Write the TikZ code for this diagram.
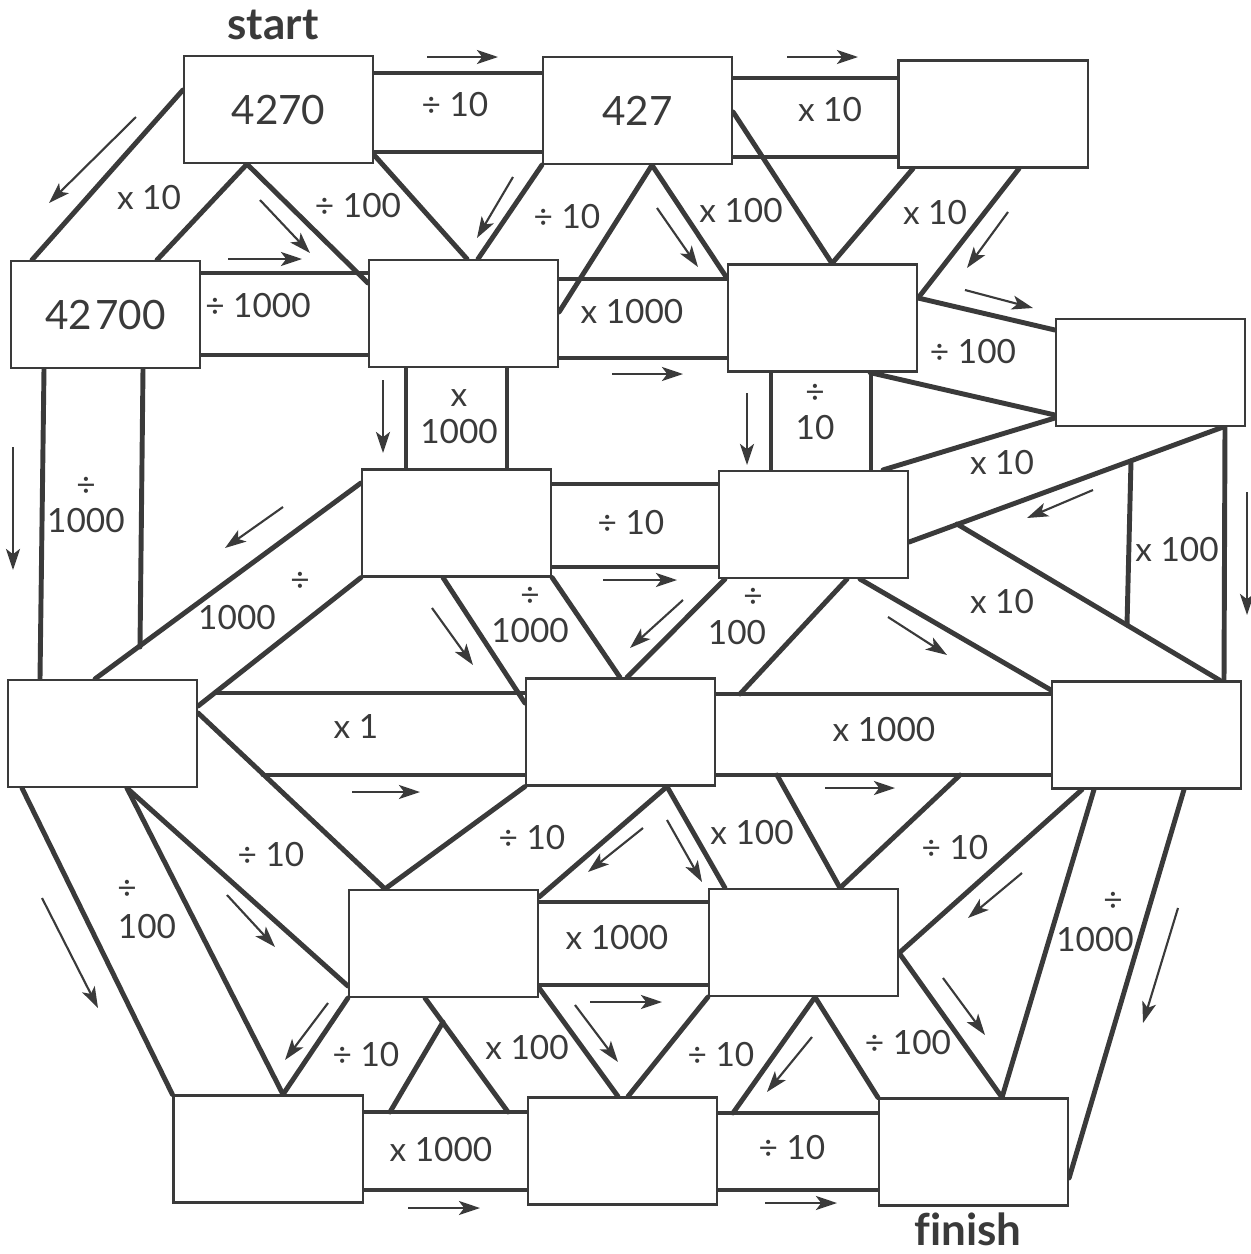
\documentclass[tikz,border=0pt]{standalone}
\usepackage{fontspec}
\setmainfont{Lato}
\usetikzlibrary{arrows.meta,backgrounds}
\definecolor{ink}{HTML}{3A3A3A}
\begin{document}
\begin{tikzpicture}[
    x=0.01cm, y=-0.01cm,
    numbox/.style={draw=ink, line width=0.6pt, fill=white, inner sep=0pt, text=ink,
        minimum width=1.89cm, minimum height=1.07cm, font=\fontsize{11.5}{13}\selectfont},
    band/.style={draw=ink, line width=1.4pt, line cap=round},
    op/.style={text=ink, inner sep=0pt, align=center, font=\fontsize{9.5}{10.5}\selectfont},
    flow/.style={draw=ink, line width=0.6pt, -{Stealth[length=6pt, width=4pt, inset=1.5pt]}},
    endlabel/.style={text=ink, font=\fontsize{12.5}{14}\selectfont\bfseries}
]
\useasboundingbox (0,0) rectangle (1251,1254);

% Boxes, row by row (on top of the paths)
\node[numbox] (b1) at (278.5,109.5) {4270};
\node[numbox] (b2) at (637.5,110.5) {427};
\node[numbox] (b3) at (993,114) {};
\node[numbox] (b4) at (105.5,314.5) {42{\kern1pt}700};
\node[numbox] (b5) at (463.5,313.5) {};
\node[numbox] (b6) at (822.5,318) {};
\node[numbox] (b7) at (1150.5,372.5) {};
\node[numbox] (b8) at (456.5,523) {};
\node[numbox] (b9) at (813.5,524.5) {};
\node[numbox] (b10) at (102.5,733.5) {};
\node[numbox] (b11) at (620.5,732) {};
\node[numbox] (b12) at (1146.5,735) {};
\node[numbox] (b13) at (443.5,943.5) {};
\node[numbox] (b14) at (803.5,942.5) {};
\node[numbox] (b15) at (268,1149) {};
\node[numbox] (b16) at (622.5,1151) {};
\node[numbox] (b17) at (973.5,1152) {};

\node[endlabel] (start) at (273,25) {start};
\node[endlabel] (finish) at (968,1229) {f\kern0pt inish};

% Junctions where one path edge stops on another
\coordinate (j1) at (140,647);
\coordinate (j2) at (215,693);
\coordinate (j3) at (263,775);
\coordinate (j4) at (1131,461);
\coordinate (j5) at (1127,625);
\coordinate (j6) at (957,524);
\coordinate (j7) at (740,694);
\coordinate (j8) at (777,775);
\coordinate (j9) at (960,775);
\coordinate (j10) at (443,1022);
\coordinate (j11) at (390,1112);
\coordinate (j12) at (508,1112);
\coordinate (j13) at (733,1113);

\begin{scope}[on background layer]
% Straight paths along the rows
\draw[band] (b1.east |- 0,73) -- (b2.west |- 0,73) (b1.east |- 0,152) -- (b2.west |- 0,152);
\draw[band] (b2.east |- 0,78) -- (b3.west |- 0,78) (b2.east |- 0,157) -- (b3.west |- 0,157);
\draw[band] (b4.east |- 0,273) -- (b5.west |- 0,273) (b4.east |- 0,355) -- (b5.west |- 0,355);
\draw[band] (b5.east |- 0,279) -- (b6.west |- 0,279) (b5.east |- 0,358) -- (b6.west |- 0,358);
\draw[band] (b8.east |- 0,484) -- (b9.west |- 0,484) (b8.east |- 0,567) -- (b9.west |- 0,567);
\draw[band] (j2) -- (b11.west |- j2) (j3) -- (b11.west |- j3);
\draw[band] (b11.east |- 0,694) -- (b12.west |- 0,694) (b11.east |- 0,775) -- (b12.west |- 0,775);
\draw[band] (b13.east |- 0,902) -- (b14.west |- 0,902) (b13.east |- 0,985) -- (b14.west |- 0,985);
\draw[band] (b15.east |- 0,1112) -- (b16.west |- 0,1112) (b15.east |- 0,1190) -- (b16.west |- 0,1190);
\draw[band] (b16.east |- 0,1113) -- (b17.west |- 0,1113) (b16.east |- 0,1190) -- (b17.west |- 0,1190);

% Upright paths
\draw[band] (b4.south -| 44,0) -- (b10.north -| 40,0) (b4.south -| 143,0) -- (j1);
\draw[band] (b5.south -| 406,0) -- (b8.north -| 406,0) (b5.south -| 507,0) -- (b8.north -| 507,0);
\draw[band] (b6.south -| 771,0) -- (b9.north -| 771,0) (b6.south -| 871,0) -- (b9.north -| 871,0);
\draw[band] (j4) -- (j5) (b7.south -| 1225,0) -- (b12.north -| 1224,0);

% Slanted paths
\draw[band] (b1.west |- 0,90) -- (b4.north -| 32,0) (b1.south -| 247,0) -- (b4.north -| 157,0);
\draw[band] (b1.south -| 247,0) -- (b5.west |- 0,283) (b1.east |- 0,155) -- (b5.north -| 467,0);
\draw[band] (b2.south west) -- (b5.north -| 478,0) (b2.south -| 652,0) -- (b5.east |- 0,312);
\draw[band] (b2.south -| 652,0) -- (b6.west |- 0,278) (b2.east |- 0,112) -- (b6.north -| 832,0);
\draw[band] (b3.south -| 913,0) -- (b6.north -| 832,0) (b3.south -| 1019,0) -- (b6.east |- 0,298);
\draw[band] (b6.east |- 0,298) -- (b7.west |- 0,330) (b6.south -| 870,0) -- (b7.west |- 0,415);
\draw[band] (b7.west |- 0,418) -- (b9.north -| 883,0) (b7.south -| 1223,0) -- (b9.east |- 0,542);
\draw[band] (j6) -- (b12.north -| 1220,0) (b9.south -| 860,0) -- (b12.west |- 0,690);
\draw[band] (b8.west |- 0,483) -- (b10.north -| 95,0) (b8.south west) -- (b10.east |- 0,706);
\draw[band] (b8.south -| 443,0) -- (b11.west |- 0,703) (b8.south east) -- (b11.north -| 620,0);
\draw[band] (b9.south -| 725,0) -- (b11.north -| 627,0) (b9.south -| 847,0) -- (j7);
\draw[band] (b10.east |- 0,713) -- (b13.north -| 385,0) (b10.south -| 127,0) -- (b13.west |- 0,986);
\draw[band] (b10.south -| 22,0) -- (b15.north west) (b10.south -| 127,0) -- (b15.north -| 283,0);
\draw[band] (b11.south west) -- (b13.north -| 385,0) (b11.south -| 667,0) -- (b13.east |- 0,897);
\draw[band] (b11.south -| 667,0) -- (b14.north -| 725,0) (j8) -- (b14.north -| 840,0);
\draw[band] (j9) -- (b14.north -| 840,0) (b12.south -| 1082,0) -- (b14.east |- 0,953);
\draw[band] (b12.south -| 1094,0) -- (b17.north -| 1002,0) (b12.south -| 1184,0) -- (b17.east |- 0,1178);
\draw[band] (b13.south west) -- (b15.north -| 283,0) (j10) -- (j11);
\draw[band] (b13.south -| 425,0) -- (j12) (b13.east |- 0,988) -- (b16.north -| 618,0);
\draw[band] (b14.south west) -- (b16.north -| 628,0) (b14.south -| 815,0) -- (j13);
\draw[band] (b14.south -| 815,0) -- (b17.north west) (b14.east |- 0,953) -- (b17.north -| 1002,0);
\end{scope}

% Operation labels
\node[op] (l1) at (455,105) {÷ 10};
\node[op] (l2) at (830,110) {x 10};
\node[op] (l3) at (149,198) {x 10};
\node[op] (l4) at (358,206) {÷ 100};
\node[op] (l5) at (567,217) {÷ 10};
\node[op] (l6) at (741,211) {x 100};
\node[op] (l7) at (935,213) {x 10};
\node[op] (l8) at (258,306) {÷ 1000};
\node[op] (l9) at (632,312) {x 1000};
\node[op] (l10) at (973,352) {÷ 100};
\node[op] (l11) at (459,417) {x\\1000};
\node[op] (l12) at (815,412) {÷\\10};
\node[op] (l13) at (86,505) {÷\\1000};
\node[op] (l14) at (631,523) {÷ 10};
\node[op] (l15) at (1002,463) {x 10};
\node[op] (l16) at (1177,550) {x 100};
\node[op] (l17) at (1002,602) {x 10};
\node[op] (l18a) at (300,582) {÷};
\node[op] (l18b) at (237,618) {1000};
\node[op] (l19) at (530,615) {÷\\1000};
\node[op] (l20a) at (753,598) {÷};
\node[op] (l20b) at (737,633) {100};
\node[op] (l21) at (356,726) {x 1};
\node[op] (l22) at (884,730) {x 1000};
\node[op] (l23) at (271,855) {÷ 10};
\node[op] (l24a) at (127,890) {÷};
\node[op] (l24b) at (147,927) {100};
\node[op] (l25) at (532,838) {÷ 10};
\node[op] (l26) at (752,833) {x 100};
\node[op] (l27) at (955,848) {÷ 10};
\node[op] (l28) at (617,938) {x 1000};
\node[op] (l29a) at (1113,902) {÷};
\node[op] (l29b) at (1095,940) {1000};
\node[op] (l30) at (366,1055) {÷ 10};
\node[op] (l31) at (527,1048) {x 100};
\node[op] (l32) at (721,1055) {÷ 10};
\node[op] (l33) at (908,1043) {÷ 100};
\node[op] (l34) at (441,1150) {x 1000};
\node[op] (l35) at (792,1148) {÷ 10};

% Direction arrows beside the paths
\draw[flow] (427,57) -- (498,57);
\draw[flow] (787,57) -- (858,57);
\draw[flow] (136,117) -- (49,203);
\draw[flow] (260,200) -- (310,253);
\draw[flow] (228,259) -- (302,259);
\draw[flow] (513,177) -- (477,238);
\draw[flow] (657,208) -- (698,267);
\draw[flow] (1008,212) -- (967,268);
\draw[flow] (965,290) -- (1033,308);
\draw[flow] (612,374) -- (683,374);
\draw[flow] (383,380) -- (383,453);
\draw[flow] (747,393) -- (747,465);
\draw[flow] (13,447) -- (13,570);
\draw[flow] (1093,490) -- (1027,518);
\draw[flow] (1247,492) -- (1247,615);
\draw[flow] (283,507) -- (225,548);
\draw[flow] (603,580) -- (677,580);
\draw[flow] (432,608) -- (473,665);
\draw[flow] (683,600) -- (630,648);
\draw[flow] (888,617) -- (947,655);
\draw[flow] (352,792) -- (420,792);
\draw[flow] (825,788) -- (895,788);
\draw[flow] (227,895) -- (275,947);
\draw[flow] (42,898) -- (98,1008);
\draw[flow] (643,828) -- (588,872);
\draw[flow] (667,820) -- (702,882);
\draw[flow] (1022,873) -- (968,918);
\draw[flow] (1178,908) -- (1143,1023);
\draw[flow] (590,1002) -- (662,1002);
\draw[flow] (328,1003) -- (285,1060);
\draw[flow] (575,1005) -- (618,1062);
\draw[flow] (812,1037) -- (767,1092);
\draw[flow] (943,978) -- (985,1035);
\draw[flow] (408,1208) -- (480,1208);
\draw[flow] (765,1203) -- (837,1203);

\end{tikzpicture}
\end{document}
